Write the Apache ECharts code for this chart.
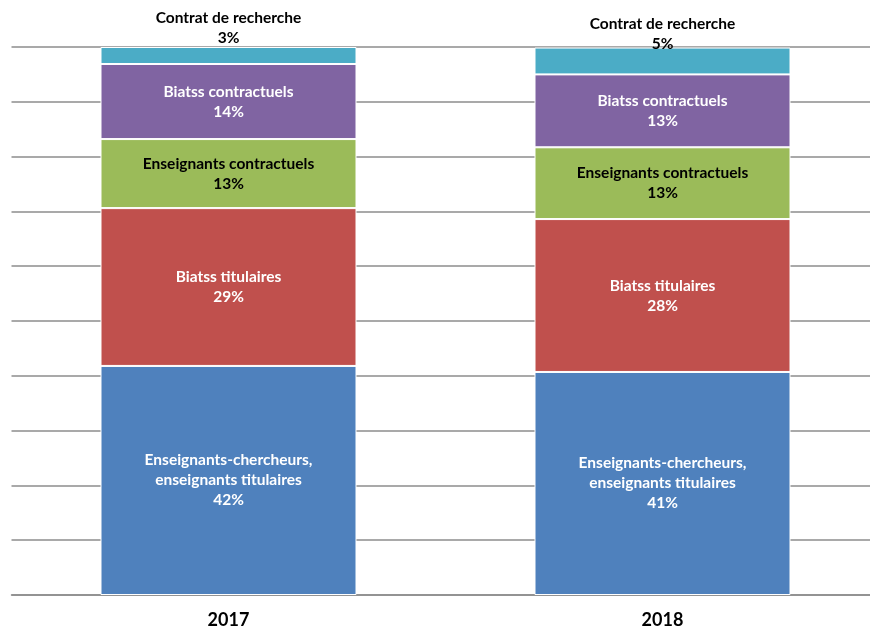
<!DOCTYPE html>
<html>
<head>
<meta charset="utf-8">
<script src="https://cdn.jsdelivr.net/npm/echarts@6/dist/echarts.min.js"></script>
<style>
  html, body { margin: 0; padding: 0; background: #fff; overflow: hidden; }
  #main { width: 880px; height: 628px; }
</style>
</head>
<body>
<div id="main"></div>
<script>
// categories
var years = ['2017', '2018']
// series names (bottom to top)
var seriesNames = [
  'Enseignants-chercheurs,\nenseignants titulaires',
  'Biatss titulaires',
  'Enseignants contractuels',
  'Biatss contractuels',
  'Contrat de recherche'
]
// shares in %
var ensChercheurs = [41.8, 40.7]
var biatssTit = [28.8, 27.9]
var ensContract = [12.6, 13.1]
var biatssContract = [13.7, 13.3]
var contratRecherche = [3.1, 4.9]
var colors = ['#4F81BD', '#C0504D', '#9BBB59', '#8064A2', '#4BACC6']
var labelColors = ['#fff', '#fff', '#000', '#fff', '#000']

var font = 'Lato, "Open Sans", sans-serif'
var allData = [ensChercheurs, biatssTit, ensContract, biatssContract, contratRecherche]

var series = allData.map(function (d, i) {
  var isTop = i === allData.length - 1
  return {
    name: seriesNames[i],
    type: 'bar',
    stack: 'total',
    barWidth: 256,
    data: d,
    itemStyle: { color: colors[i], borderColor: '#fff', borderWidth: 1 },
    label: {
      show: true,
      position: 'inside',
      offset: isTop ? [0, -27] : [0, 0],
      color: labelColors[i],
      fontFamily: font,
      fontWeight: 'bold',
      fontSize: 15.5,
      lineHeight: 20,
      formatter: function (p) {
        return p.seriesName + '\n' + Math.round(p.value) + '%'
      }
    }
  }
})

var chart = echarts.init(document.getElementById('main'))
chart.setOption({
  animation: false,
  backgroundColor: '#fff',
  grid: { left: 11.5, right: 0.5, top: 47, bottom: 33, containLabel: false, outerBoundsMode: 'none' },
  xAxis: {
    type: 'category',
    data: years,
    axisLine: { lineStyle: { color: '#8c8c8c', width: 1.5 } },
    axisTick: { show: false },
    axisLabel: {
      color: '#000',
      fontFamily: font,
      fontWeight: 'bold',
      fontSize: 18,
      margin: 16
    }
  },
  yAxis: {
    type: 'value',
    min: 0,
    max: 100,
    interval: 10,
    axisLabel: { show: false },
    axisLine: { show: false },
    axisTick: { show: false },
    splitLine: { lineStyle: { color: '#8c8c8c', width: 1.5 } }
  },
  series: series
})
</script>
</body>
</html>
